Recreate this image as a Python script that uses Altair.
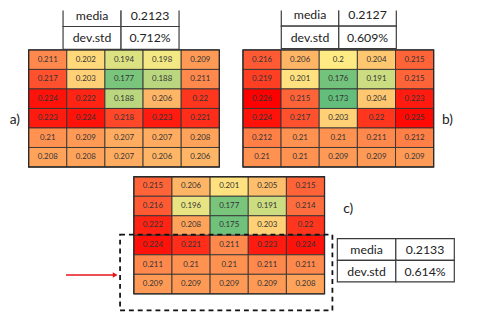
import altair as alt
import pandas as pd

# ---------------- data ----------------
panels = ["a", "b", "c"]
panel_labels = ["a)", "b)", "c)"]
grid_a = [[0.211, 0.202, 0.194, 0.198, 0.209],
          [0.217, 0.203, 0.177, 0.188, 0.211],
          [0.224, 0.222, 0.188, 0.206, 0.22],
          [0.223, 0.224, 0.218, 0.223, 0.221],
          [0.21, 0.209, 0.207, 0.207, 0.208],
          [0.208, 0.208, 0.207, 0.206, 0.206]]
grid_b = [[0.216, 0.206, 0.2, 0.204, 0.215],
          [0.219, 0.201, 0.176, 0.191, 0.215],
          [0.226, 0.215, 0.173, 0.204, 0.223],
          [0.224, 0.217, 0.203, 0.22, 0.225],
          [0.212, 0.21, 0.21, 0.211, 0.212],
          [0.21, 0.21, 0.209, 0.209, 0.209]]
grid_c = [[0.215, 0.206, 0.201, 0.205, 0.215],
          [0.216, 0.196, 0.177, 0.191, 0.214],
          [0.222, 0.208, 0.175, 0.203, 0.22],
          [0.224, 0.221, 0.211, 0.223, 0.224],
          [0.211, 0.21, 0.21, 0.211, 0.211],
          [0.209, 0.209, 0.209, 0.209, 0.208]]
stat_names = ["media", "dev.std"]
media = ["0.2123", "0.2127", "0.2133"]
dev_std = ["0.712%", "0.609%", "0.614%"]

# ---------------- layout (pixel positions of the page) ----------------
W, H = 472, 307
OFF = 8
CW, CH = 38.8, 19.85
grid_origin = {"a": (29, 48), "b": (247, 48), "c": (136, 177)}
table_geo = {"a": (64, 1, 59, 23.2), "b": (286, 1, 58.5, 22.8), "c": (343, 240, 59.5, 22)}
label_pos = {"a": (15, 119), "b": (455, 119), "c": (354, 210)}
box = (122, 236, 338, 313)
arrow = (67, 120, 277)
FONT = "Lato"

grids = {"a": grid_a, "b": grid_b, "c": grid_c}

cells = []
frames = []
for p in panels:
    gx, gy = grid_origin[p]
    g = grids[p]
    for r, row in enumerate(g):
        for c, v in enumerate(row):
            x = gx + c * CW
            y = gy + r * CH
            cells.append({"panel": p, "x": x, "x2": x + CW, "y": y, "y2": y + CH,
                          "xc": x + CW / 2, "yc": y + CH / 2, "value": v, "txt": repr(v)})
    frames.append({"x": gx, "x2": gx + 5 * CW, "y": gy, "y2": gy + 6 * CH})
cells = pd.DataFrame(cells)
frames = pd.DataFrame(frames)

tcells, ttext = [], []
for i, p in enumerate(panels):
    tx, ty, cw, rh = table_geo[p]
    vals = [[stat_names[0], media[i]], [stat_names[1], dev_std[i]]]
    for r in range(2):
        for c in range(2):
            x = tx + c * cw
            y = ty + r * rh
            tcells.append({"x": x, "x2": x + cw, "y": y, "y2": y + rh})
            ttext.append({"xc": x + cw / 2, "yc": y + rh / 2 + 0.5, "txt": vals[r][c]})
tcells = pd.DataFrame(tcells)
ttext = pd.DataFrame(ttext)

labs = pd.DataFrame([{"xc": label_pos[p][0], "yc": label_pos[p][1], "txt": panel_labels[i]}
                     for i, p in enumerate(panels)])
boxdf = pd.DataFrame([{"x": box[0], "y": box[1], "x2": box[2], "y2": box[3]}])
arrdf = pd.DataFrame([{"x": arrow[0], "x2": arrow[1] - 3, "y": arrow[2]}])
headdf = pd.DataFrame([{"x": arrow[1] - 3, "y": arrow[2]}])

xs = alt.Scale(domain=[OFF, OFF + W], nice=False, zero=False)
ys = alt.Scale(domain=[OFF, OFF + H], nice=False, zero=False, reverse=True)

def X(f="x"):
    return alt.X(f"{f}:Q", scale=xs, axis=None)

def Y(f="y"):
    return alt.Y(f"{f}:Q", scale=ys, axis=None)

color_scale = alt.Scale(domain=[0.173, 0.2, 0.226],
                        range=["#63BE7B", "#FFEB84", "#FF0000"], interpolate="rgb")

rects = alt.Chart(cells).mark_rect(stroke="#333333", strokeWidth=0.9, clip=True).encode(
    x=X(), x2="x2:Q", y=Y(), y2="y2:Q",
    color=alt.Color("value:Q", scale=color_scale, legend=None))
frame = alt.Chart(frames).mark_rect(fill=None, stroke="#2a2a2a", strokeWidth=1.3, clip=True).encode(
    x=X(), x2="x2:Q", y=Y(), y2="y2:Q")
ctext = alt.Chart(cells).mark_text(font=FONT, fontSize=8, color="#333333", baseline="middle").encode(
    x=X("xc"), y=Y("yc"), text="txt:N")
trects = alt.Chart(tcells).mark_rect(fill="white", stroke="#3a3a3a", strokeWidth=1.2, clip=True).encode(
    x=X(), x2="x2:Q", y=Y(), y2="y2:Q")
ttx = alt.Chart(ttext).mark_text(font=FONT, fontSize=12.5, color="#222222", baseline="middle").encode(
    x=X("xc"), y=Y("yc"), text="txt:N")
lab = alt.Chart(labs).mark_text(font=FONT, fontSize=14, color="#222222", baseline="middle").encode(
    x=X("xc"), y=Y("yc"), text="txt:N")
dbox = alt.Chart(boxdf).mark_rect(fill=None, stroke="#111111", strokeWidth=1.8,
                                  strokeDash=[5, 4], clip=True).encode(
    x=X(), x2="x2:Q", y=Y(), y2="y2:Q")
arr = alt.Chart(arrdf).mark_rule(color="#E8141B", strokeWidth=1.6).encode(
    x=X(), x2="x2:Q", y=Y())
head = alt.Chart(headdf).mark_point(shape="triangle-right", filled=True, color="#E8141B",
                                    size=30, opacity=1).encode(x=X(), y=Y())

chart = alt.layer(rects, frame, ctext, trects, ttx, lab, dbox, arr, head).properties(
    width=W, height=H, padding=0, autosize=alt.AutoSizeParams(type="none")
).configure_view(stroke=None)

chart.save("out.html", embed_options={"renderer": "svg", "actions": False})
